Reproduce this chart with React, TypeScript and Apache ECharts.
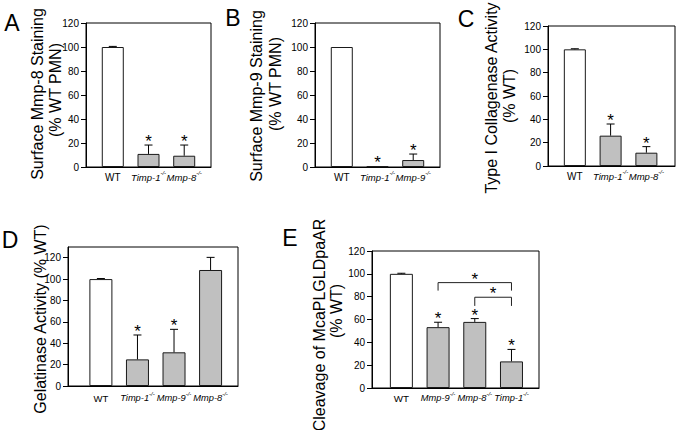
import React, { useEffect, useRef } from 'react';
import * as echarts from 'echarts';

const FONT = "'Liberation Sans', Arial, Helvetica, sans-serif";

// ---- Data ----
const catsA = ['WT', 'Timp-1', 'Mmp-8'];
const valsA = [100, 10.9, 9.4];
const errA = [0.5, 7.4, 8.9];
const starA = [0, 1, 1];

const catsB = ['WT', 'Timp-1', 'Mmp-9'];
const valsB = [100, 0.5, 5.8];
const errB = [0, 0, 5.0];
const starB = [0, 1, 1];

const catsC = ['WT', 'Timp-1', 'Mmp-8'];
const valsC = [100, 26, 11.4];
const errC = [0.5, 10, 5.2];
const starC = [0, 1, 1];

const catsD = ['WT', 'Timp-1', 'Mmp-9', 'Mmp-8'];
const valsD = [100, 24.9, 31.5, 108.5];
const errD = [0.5, 22.8, 21.5, 11.8];
const starD = [0, 1, 1, 0];

const catsE = ['WT', 'Mmp-9', 'Mmp-8', 'Timp-1'];
const valsE = [100, 53.3, 57.9, 23.3];
const errE = [0.5, 4.3, 2.9, 10.5];
const starE = [0, 1, 1, 1];

// significance brackets in panel E (category index from / to, top value, leg end value)
const brackFrom = [1, 2];
const brackTo = [3, 3];
const brackTop = [92.3, 79.5];
const brackLeg = [85.3, 71.9];

const yTicks = [0, 20, 40, 60, 80, 100, 120];

const titleA = ['Surface Mmp-8 Staining', '(% WT PMN)'];
const titleB = ['Surface Mmp-9 Staining', '(% WT PMN)'];
const titleC = ['Type I Collagenase Activity', '(% WT)'];
const titleD = ['Gelatinase Activity (% WT)'];
const titleE = ['Cleavage of McaPLGLDpaAR', '(% WT)'];
const letters = ['A', 'B', 'C', 'D', 'E'];

// ---- Layout ----
type Panel = {
  cats: string[]; vals: number[]; err: number[]; star: number[];
  left: number; top: number; width: number; height: number;
  xmin: number; xmax: number; ymax: number;
  barWidth: number; wtSize: number; itSize: number; supSize: number; labelMargin: number;
  title: string[]; titleX: number[]; titleY: number[];
  letterX: number; letterY: number;
};

const panels: Panel[] = [
  { cats: catsA, vals: valsA, err: errA, star: starA, left: 86, top: 23, width: 125, height: 144,
    xmin: -0.75, xmax: 2.75, ymax: 120, barWidth: 22, wtSize: 10, itSize: 9.5, supSize: 6, labelMargin: 3,
    title: titleA, titleX: [37, 55], titleY: [94, 90], letterX: 12, letterY: 23 },
  { cats: catsB, vals: valsB, err: errB, star: starB, left: 315, top: 23, width: 125, height: 144,
    xmin: -0.75, xmax: 2.75, ymax: 120, barWidth: 22, wtSize: 10, itSize: 9.5, supSize: 6, labelMargin: 3,
    title: titleB, titleX: [256, 275], titleY: [96, 84], letterX: 233, letterY: 18 },
  { cats: catsC, vals: valsC, err: errC, star: starC, left: 548, top: 26, width: 127, height: 140,
    xmin: -0.75, xmax: 2.8, ymax: 120, barWidth: 22, wtSize: 10, itSize: 9.5, supSize: 6, labelMargin: 3,
    title: titleC, titleX: [491, 509], titleY: [98, 96], letterX: 466, letterY: 19 },
  { cats: catsD, vals: valsD, err: errD, star: starD, left: 68, top: 247, width: 170, height: 139,
    xmin: -0.9, xmax: 3.75, ymax: 130, barWidth: 23, wtSize: 9.5, itSize: 9.3, supSize: 6, labelMargin: 5,
    title: titleD, titleX: [40], titleY: [319], letterX: 10, letterY: 240 },
  { cats: catsE, vals: valsE, err: errE, star: starE, left: 372, top: 251, width: 167, height: 137,
    xmin: -0.8, xmax: 3.75, ymax: 120, barWidth: 23, wtSize: 9.8, itSize: 9.3, supSize: 6, labelMargin: 3,
    title: titleE, titleX: [319, 336], titleY: [325, 311], letterX: 290, letterY: 238 },
];

function starText(x: number, y: number) {
  return { type: 'text', x, y,
    style: { text: '*', fontSize: 17, fontFamily: FONT, fill: '#000', textAlign: 'center', textVerticalAlign: 'middle' } };
}

function buildOption() {
  const grid = panels.map((p) => ({
    left: p.left, top: p.top, width: p.width, height: p.height,
    show: true, borderColor: '#000', borderWidth: 1, backgroundColor: 'transparent', containLabel: false,
  }));

  const xAxis = panels.map((p, i) => ({
    gridIndex: i, type: 'value', min: p.xmin, max: p.xmax,
    axisLine: { show: true, onZero: false, lineStyle: { color: '#000', width: 1 } },
    axisTick: { show: false },
    splitLine: { show: false },
    axisLabel: { show: false },
  }));

  const yAxis = panels.map((p, i) => ({
    gridIndex: i, type: 'value', min: 0, max: p.ymax,
    ...(p.ymax === 120 ? { interval: 20 } : {}),
    axisLine: { show: true, onZero: false, lineStyle: { color: '#000', width: 1 } },
    axisTick: { show: true, length: 5, inside: false, lineStyle: { color: '#000' },
      ...(p.ymax === 120 ? {} : { customValues: yTicks }) },
    splitLine: { show: false },
    axisLabel: { fontSize: 10, fontFamily: FONT, color: '#000', margin: 7,
      showMinLabel: true, showMaxLabel: true,
      ...(p.ymax === 120 ? {} : { customValues: yTicks }) },
  }));

  const series: any[] = [];
  panels.forEach((p, i) => {
    const rich = {
      n: { fontSize: p.wtSize, fontFamily: FONT, fill: '#000', lineHeight: 14 },
      it: { fontSize: p.itSize, fontFamily: FONT, fontStyle: 'italic', fill: '#000', lineHeight: 14 },
      sup: { fontSize: p.supSize, fontFamily: FONT, fontStyle: 'italic', fill: '#000', lineHeight: 14, verticalAlign: 'top' },
    };
    series.push({
      type: 'bar', xAxisIndex: i, yAxisIndex: i, barWidth: p.barWidth,
      data: p.cats.map((_, j) => ({
        value: [j, p.vals[j]],
        itemStyle: { color: j === 0 ? '#ffffff' : '#c0c0c0', borderColor: '#1a1a1a', borderWidth: 1 },
      })),
      silent: true,
    });
    series.push({
      type: 'custom', xAxisIndex: i, yAxisIndex: i, clip: false,
      encode: { x: 0, y: 1 },
      data: p.cats.map((_, j) => [j, p.vals[j], p.err[j], p.star[j]]),
      renderItem: (_params: any, api: any) => {
        const x = api.value(0), v = api.value(1), e = api.value(2), s = api.value(3);
        const base = api.coord([x, v]);
        const top = api.coord([x, v + e]);
        const zero = api.coord([x, 0]);
        const children: any[] = [];
        if (e > 0) {
          children.push({ type: 'line', shape: { x1: base[0], y1: base[1], x2: top[0], y2: top[1] }, style: { stroke: '#000', lineWidth: 1 } });
          children.push({ type: 'line', shape: { x1: top[0] - 4, y1: top[1], x2: top[0] + 4, y2: top[1] }, style: { stroke: '#000', lineWidth: 1 } });
        }
        if (s) children.push(starText(top[0], top[1] - 3.5));
        const c = p.cats[Math.round(x)];
        const label = c === 'WT' ? `{n|${c}}` : `{it|${c}}{sup|-/-}`;
        children.push({ type: 'text', x: zero[0], y: zero[1] + p.labelMargin,
          style: { text: label, rich, textAlign: 'center', textVerticalAlign: 'top' } });
        return { type: 'group', children };
      },
      silent: true, z: 3,
    });
  });

  // brackets in E
  series.push({
    type: 'custom', xAxisIndex: 4, yAxisIndex: 4,
    encode: { x: [0, 1], y: [2, 3] },
    data: brackFrom.map((f, k) => [f, brackTo[k], brackTop[k], brackLeg[k]]),
    renderItem: (_params: any, api: any) => {
      const f = api.value(0), t = api.value(1), top = api.value(2), leg = api.value(3);
      const a = api.coord([f, leg]);
      const b = api.coord([f, top]);
      const c = api.coord([t, top]);
      const d = api.coord([t, leg]);
      return {
        type: 'group',
        children: [
          { type: 'polyline', shape: { points: [a, b, c, d] }, style: { stroke: '#222', lineWidth: 1, fill: 'none' } },
          starText((b[0] + c[0]) / 2, b[1] - 3.5),
        ],
      };
    },
    silent: true, z: 3,
  });

  const graphic: any[] = [];
  panels.forEach((p, i) => {
    graphic.push({ type: 'text', x: p.letterX, y: p.letterY,
      style: { text: letters[i], fontSize: 23, fontFamily: FONT, fill: '#000', textAlign: 'center', textVerticalAlign: 'middle' } });
    p.title.forEach((t, k) => {
      graphic.push({ type: 'text', x: p.titleX[k], y: p.titleY[k], rotation: Math.PI / 2,
        style: { text: t, fontSize: 16, fontFamily: FONT, fill: '#000', textAlign: 'center', textVerticalAlign: 'middle' } });
    });
  });

  return {
    animation: false,
    backgroundColor: '#ffffff',
    grid, xAxis, yAxis, series, graphic,
  };
}

export default function App() {
  const ref = useRef<HTMLDivElement>(null);
  useEffect(() => {
    if (!ref.current) return;
    const chart = echarts.init(ref.current, null, { renderer: 'svg' });
    chart.setOption(buildOption() as any);
    return () => chart.dispose();
  }, []);
  return (
    <div
      ref={ref}
      style={{ position: 'fixed', left: 0, top: 0, width: 679, height: 430, background: '#fff' }}
    />
  );
}
